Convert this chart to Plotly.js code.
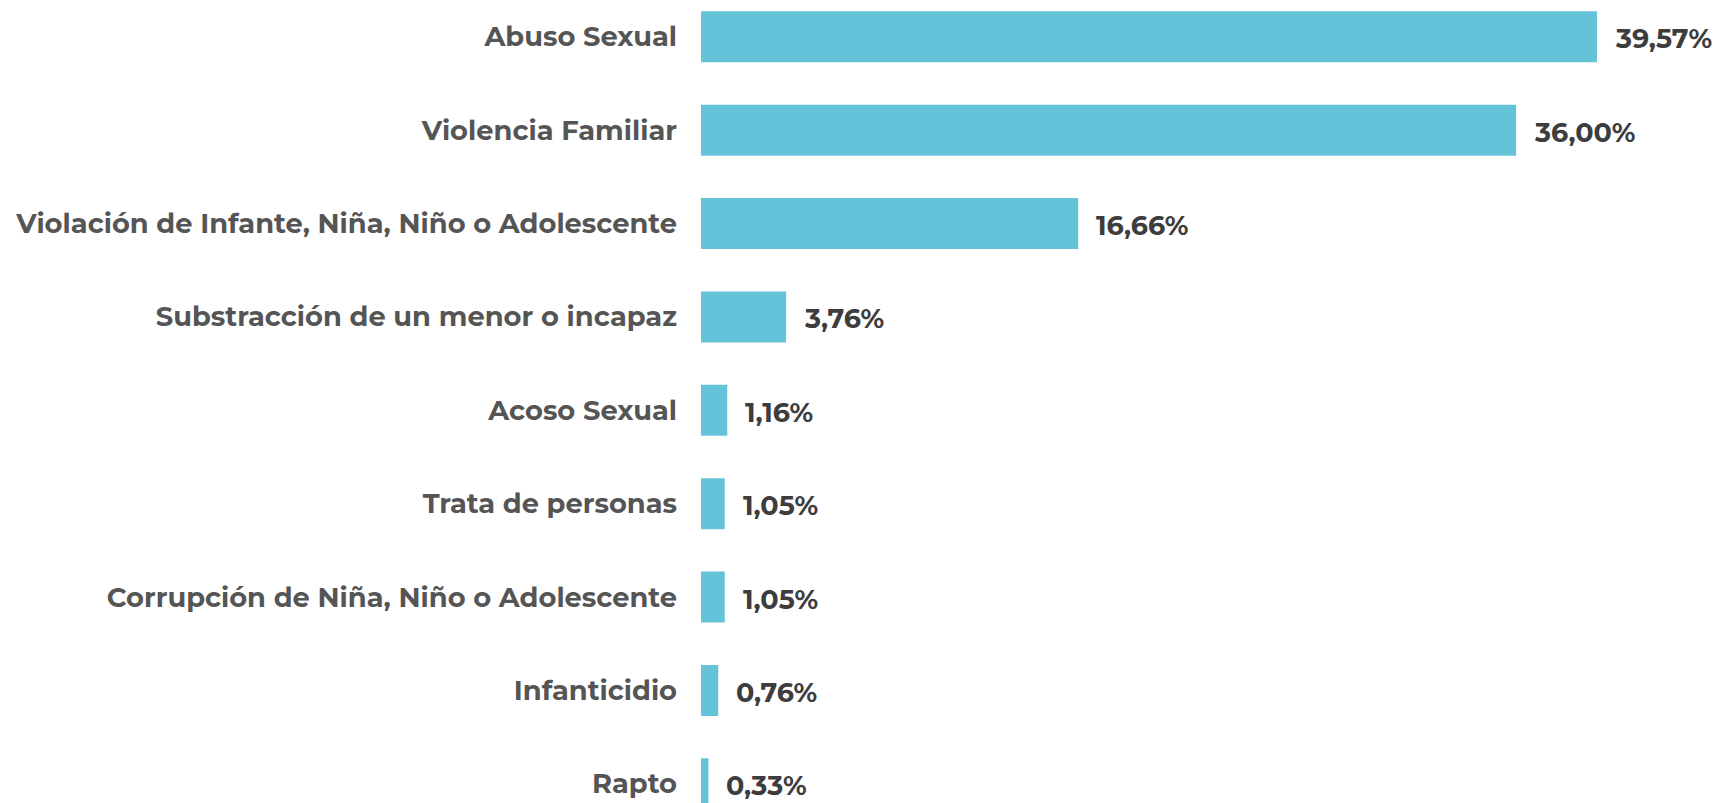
<!DOCTYPE html>
<html>
<head>
<meta charset="utf-8">
<script src="https://cdn.plot.ly/plotly-3.0.1.min.js"></script>
<style>
html,body{margin:0;padding:0;background:#fff;}
#chart{width:1719px;height:803px;}
</style>
</head>
<body>
<div id="chart"></div>
<script>
const categories = [
  "Abuso Sexual",
  "Violencia Familiar",
  "Violación de Infante, Niña, Niño o Adolescente",
  "Substracción de un menor o incapaz",
  "Acoso Sexual",
  "Trata de personas",
  "Corrupción de Niña, Niño o Adolescente",
  "Infanticidio",
  "Rapto"
];
const values = [39.57, 36.00, 16.66, 3.76, 1.16, 1.05, 1.05, 0.76, 0.33];
const valueLabels = values.map(v => v.toFixed(2).replace('.', ',') + '%');

const trace = {
  type: 'bar',
  orientation: 'h',
  y: categories,
  x: values,
  marker: {color: '#64c3d8'},
  hoverinfo: 'none'
};

const annotations = values.map((v, i) => ({
  x: v, y: categories[i], xref: 'x', yref: 'y',
  text: valueLabels[i], showarrow: false,
  xanchor: 'left', yanchor: 'middle', xshift: 16, yshift: -2,
  font: {family: 'Montserrat, "Open Sans", sans-serif', size: 27, color: '#3d3d3d', weight: 700}
}));

const layout = {
  width: 1719, height: 803,
  margin: {l: 701, r: 0, t: 0, b: 0, pad: 0},
  paper_bgcolor: '#ffffff', plot_bgcolor: '#ffffff',
  bargap: 0.454,
  showlegend: false,
  xaxis: {range: [0, 44.96], visible: false, fixedrange: true},
  yaxis: {
    type: 'category',
    range: [8.206, -0.394],
    showgrid: false, zeroline: false, showline: false,
    ticks: '', ticklabelstandoff: 23,
    tickfont: {family: 'Montserrat, "Open Sans", sans-serif', size: 27.3, color: '#555555', weight: 700},
    fixedrange: true
  },
  annotations: annotations
};

Plotly.newPlot('chart', [trace], layout, {staticPlot: true, displayModeBar: false});
</script>
</body>
</html>
